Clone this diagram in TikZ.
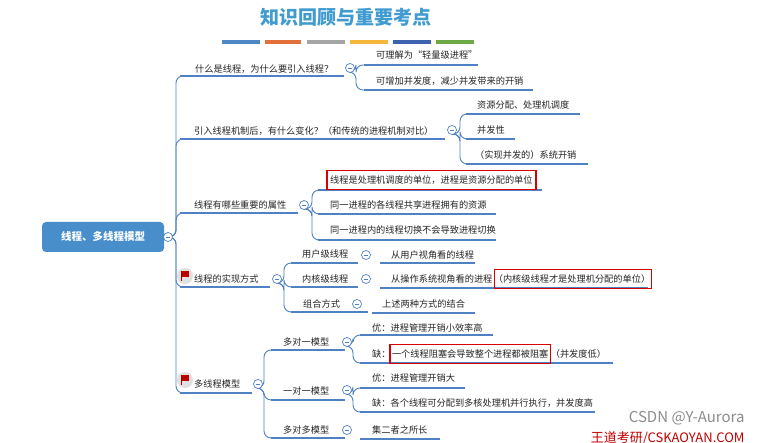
\documentclass[tikz,border=0pt]{standalone}
\usepackage{fontspec}
\setmainfont{Noto Sans CJK SC}
\begin{document}
\begin{tikzpicture}[x=1pt,y=-1pt,
  lbl/.style={anchor=west,inner sep=0pt,font=\fontsize{9.2}{10}\selectfont,text=black!85},
  uline/.style={draw=bl,line width=1.8pt},
  conn/.style={draw=bl,line width=0.9pt,rounded corners=7},
  redbox/.style={draw=red!85!black,line width=1.4pt},
]
\definecolor{bl}{HTML}{4F82C4}
\useasboundingbox[fill=white] (0,0) rectangle (762,443);
% title
\node[font=\fontsize{19}{22}\selectfont\bfseries,text=bl!80!cyan] (title) at (346,17) {知识回顾与重要考点};
\foreach \a/\b/\c in {222/260/4F86C6,265/301/E2703A,307/345/A5A5A5,350/388/F4B63B,393/431/3D63AE,436/474/6DAA45}{
  \definecolor{tmp}{HTML}{\c}\fill[tmp] (\a,40) rectangle (\b,44);}
% root
\node[fill=bl!90!cyan,rounded corners=4,minimum width=122,minimum height=30,text=white,font=\fontsize{10.5}{12}\selectfont\bfseries] (root) at (103,237) {线程、多线程模型};
\newcommand\mycirc[2]{\draw[bl,line width=0.7pt,fill=white] (#1,#2) circle (4.5);\draw[bl,line width=0.7pt] (#1-2.3,#2) -- (#1+2.3,#2);}
\newcommand\myflag[2]{\fill[black!12] (#1,#2) circle (8);\fill[red!75!black] (#1-4,#2-5) rectangle (#1+4,#2+1);\draw[red!60!black,line width=0.8pt] (#1-4,#2-5) -- (#1-4,#2+5);}
% spine
\foreach \y in {76,139,213,287,393}{\draw[conn] (172,237) -- (176,237) |- (186,\y);}
\mycirc{168}{237}
% level 1
\node[lbl] (a) at (195,69) {什么是线程，为什么要引入线程？};
\draw[uline] (180,76) -- (344,76);
\node[lbl] (b) at (194,131) {引入线程机制后，有什么变化？（和传统的进程机制对比）};
\draw[uline] (180,139) -- (445,139);
\node[lbl] (c) at (194,205) {线程有哪些重要的属性};
\draw[uline] (180,213) -- (298,213);
\node[lbl] (d) at (194,279) {线程的实现方式};
\draw[uline] (180,287) -- (270,287);
\node[lbl] (e) at (194,384) {多线程模型};
\draw[uline] (180,393) -- (252,393);
\myflag{185}{276}\myflag{185}{380}
% a children
\foreach \y/\e in {65/478,90/533}{\draw[conn] (350,72) -- (356,72) |- (366,\y); \draw[uline] (364,\y) -- (\e,\y);}
\node[lbl] (a1) at (376,55) {可理解为“轻量级进程”};
\node[lbl] (a2) at (376,81) {可增加并发度，减少并发带来的开销};
\mycirc{350}{68}
% b children
\foreach \y/\e in {114/580,139/515,164/588}{\draw[conn] (452,134) -- (460,134) |- (470,\y); \draw[uline] (466,\y) -- (\e,\y);}
\node[lbl] (b1) at (477,105) {资源分配、处理机调度};
\node[lbl] (b2) at (477,130) {并发性};
\node[lbl] (b3) at (475,155) {（实现并发的）系统开销};
\mycirc{452}{130}
% c children
\foreach \y/\e in {190/542,214/496,240/496}{\draw[conn] (304,209) -- (312,209) |- (322,\y); \draw[uline] (318,\y) -- (\e,\y);}
\node[lbl] (c1) at (330,180) {线程是处理机调度的单位，进程是资源分配的单位};
\draw[redbox] ([xshift=-3pt,yshift=-5pt]c1.south west) rectangle ([xshift=3pt,yshift=5pt]c1.north east);
\node[lbl] (c2) at (330,205) {同一进程的各线程共享进程拥有的资源};
\node[lbl] (c3) at (330,230) {同一进程内的线程切换不会导致进程切换};
\mycirc{304}{205}
% d children
\foreach \y/\e in {263/358,287/358,312/368}{\draw[conn] (277,283) -- (284,283) |- (294,\y); \draw[uline] (291,\y) -- (\e,\y);}
\node[lbl] (d1) at (302,254) {用户级线程};
\node[lbl] (d2) at (302,279) {内核级线程};
\node[lbl] (d3) at (303,304) {组合方式};
\mycirc{277}{279}
\draw[uline] (380,263) -- (475,263); \mycirc{366}{255}
\node[lbl] (d11) at (391,255) {从用户视角看的线程};
\draw[uline] (380,288) -- (648,288); \mycirc{366}{279}
\node[lbl] (d21) at (391,279) {从操作系统视角看的进程};
\node[lbl,anchor=base west] (d22) at ([xshift=1pt]d21.base east) {（内核级线程才是处理机分配的单位）};
\draw[redbox] ([xshift=1pt,yshift=-5pt]d22.south west) rectangle ([xshift=1pt,yshift=5pt]d22.north east);
\draw[uline] (372,313) -- (475,313); \mycirc{357}{304}
\node[lbl] (d31) at (382,304) {上述两种方式的结合};
% e children
\foreach \y/\e in {350/345,400/345,438/345}{\draw[conn] (258,388) -- (264,388) |- (274,\y); \draw[uline] (271,\y) -- (\e,\y);}
\node[lbl] (e1) at (283,342) {多对一模型};
\node[lbl] (e2) at (283,391) {一对一模型};
\node[lbl] (e3) at (283,430) {多对多模型};
\mycirc{258}{384}
\foreach \y/\e in {335/493,363/613}{\draw[conn] (347,346) -- (353,346) |- (363,\y); \draw[uline] (360,\y) -- (\e,\y);}
\mycirc{347}{342}
\node[lbl] (e11) at (372,328) {优：进程管理开销小效率高};
\node[lbl] (e12) at (372,354) {缺：};
\node[lbl,anchor=base west] (e12b) at ([xshift=1pt]e12.base east) {一个线程阻塞会导致整个进程都被阻塞};
\node[lbl,anchor=base west] (e12c) at ([xshift=2pt]e12b.base east) {（并发度低）};
\draw[redbox] ([xshift=-2pt,yshift=-5pt]e12b.south west) rectangle ([xshift=2pt,yshift=5pt]e12b.north east);
\foreach \y/\e in {388/465,412/595}{\draw[conn] (347,394) -- (353,394) |- (363,\y); \draw[uline] (360,\y) -- (\e,\y);}
\mycirc{347}{390}
\node[lbl] (e21) at (372,378) {优：进程管理开销大};
\node[lbl] (e22) at (372,403) {缺：各个线程可分配到多核处理机并行执行，并发度高};
\draw[uline] (360,439) -- (440,439); \mycirc{347}{430}
\node[lbl] (e31) at (372,430) {集二者之所长};
% watermark
\node[anchor=east,font=\fontsize{15}{16}\selectfont,text=black!45] (wm1) at (748,418) {CSDN @Y-Aurora};
\node[anchor=east,font=\fontsize{13}{14}\selectfont,text=red!75!black] (wm2) at (748,438) {王道考研/CSKAOYAN.COM};
\end{tikzpicture}
\end{document}
